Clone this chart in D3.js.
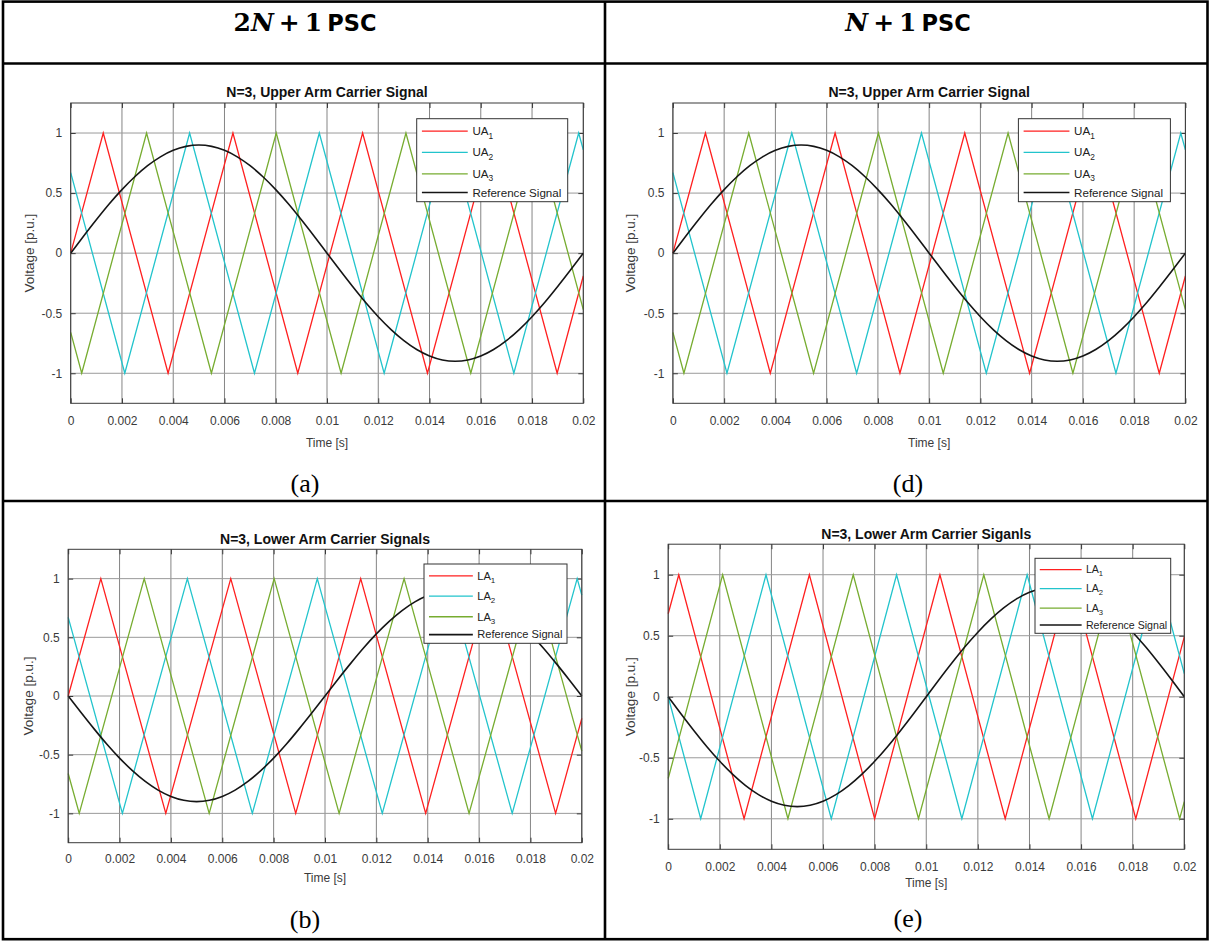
<!DOCTYPE html>
<html>
<head>
<meta charset="utf-8">
<script src="https://cdn.jsdelivr.net/npm/d3@7"></script>
<style>
  html, body { margin: 0; padding: 0; background: #fff; }
  svg { display: block; }
</style>
</head>
<body>
<svg id="chart" width="1212" height="942"></svg>
<script>
// ---------------- DATA ----------------
const xTicks = [0, 0.002, 0.004, 0.006, 0.008, 0.01, 0.012, 0.014, 0.016, 0.018, 0.02];
const xTickLabels = ["0", "0.002", "0.004", "0.006", "0.008", "0.01", "0.012", "0.014", "0.016", "0.018", "0.02"];
const yTicks = [-1, -0.5, 0, 0.5, 1];
const yTickLabels = ["-1", "-0.5", "0", "0.5", "1"];
const xDomain = [0, 0.02];
const yDomain = [-1.25, 1.25];

// Reference signal samples (time in s, value in p.u.)
const refTime = [0, 0.0005, 0.001, 0.0015, 0.002, 0.0025, 0.003, 0.0035, 0.004, 0.0045, 0.005,
  0.0055, 0.006, 0.0065, 0.007, 0.0075, 0.008, 0.0085, 0.009, 0.0095, 0.01,
  0.0105, 0.011, 0.0115, 0.012, 0.0125, 0.013, 0.0135, 0.014, 0.0145, 0.015,
  0.0155, 0.016, 0.0165, 0.017, 0.0175, 0.018, 0.0185, 0.019, 0.0195, 0.02];
const refUpper = [0, 0.141, 0.278, 0.409, 0.529, 0.636, 0.728, 0.802, 0.856, 0.889, 0.9,
  0.889, 0.856, 0.802, 0.728, 0.636, 0.529, 0.409, 0.278, 0.141, 0,
  -0.141, -0.278, -0.409, -0.529, -0.636, -0.728, -0.802, -0.856, -0.889, -0.9,
  -0.889, -0.856, -0.802, -0.728, -0.636, -0.529, -0.409, -0.278, -0.141, 0];
const refLower = [0, -0.141, -0.278, -0.409, -0.529, -0.636, -0.728, -0.802, -0.856, -0.889, -0.9,
  -0.889, -0.856, -0.802, -0.728, -0.636, -0.529, -0.409, -0.278, -0.141, 0,
  0.141, 0.278, 0.409, 0.529, 0.636, 0.728, 0.802, 0.856, 0.889, 0.9,
  0.889, 0.856, 0.802, 0.728, 0.636, 0.529, 0.409, 0.278, 0.141, 0];

// Carrier vertices, 2N+1 PSC (panels a, b) and N+1 upper arm (panel d)
const car1T = [0, 0.00127, 0.0038, 0.00633, 0.00886, 0.01139, 0.01392, 0.01645, 0.01898, 0.02];
const car1V = [0, 1, -1, 1, -1, 1, -1, 1, -1, -0.19];
const car2T = [0, 0.00211, 0.00464, 0.00717, 0.0097, 0.01223, 0.01476, 0.01729, 0.01982, 0.02];
const car2V = [0.67, -1, 1, -1, 1, -1, 1, -1, 1, 0.86];
const car3T = [0, 0.00043, 0.00296, 0.00549, 0.00802, 0.01055, 0.01308, 0.01561, 0.01814, 0.02];
const car3V = [-0.66, -1, 1, -1, 1, -1, 1, -1, 1, -0.47];

// Carrier vertices, N+1 PSC lower arm (panel e)
const carE1T = [0, 0.00041, 0.00294, 0.00547, 0.008, 0.01053, 0.01306, 0.01559, 0.01812, 0.02];
const carE1V = [0.68, 1, -1, 1, -1, 1, -1, 1, -1, 0.49];
const carE2T = [0, 0.00126, 0.00379, 0.00632, 0.00885, 0.01138, 0.01391, 0.01644, 0.01897, 0.02];
const carE2V = [0, -1, 1, -1, 1, -1, 1, -1, 1, 0.19];
const carE3T = [0, 0.00211, 0.00464, 0.00717, 0.0097, 0.01223, 0.01476, 0.01729, 0.01982, 0.02];
const carE3V = [-0.67, 1, -1, 1, -1, 1, -1, 1, -1, -0.86];

const upperNames = ["UA", "UA", "UA"];
const lowerNames = ["LA", "LA", "LA"];
const seriesSubs = ["1", "2", "3"];
const refName = "Reference Signal";
const titles = ["N=3, Upper Arm Carrier Signal", "N=3, Lower Arm Carrier Signals",
                "N=3, Upper Arm Carrier Signal", "N=3, Lower Arm Carrier Siganls"];
const captions = ["(a)", "(b)", "(d)", "(e)"];
const xLabel = "Time [s]";
const yLabel = "Voltage [p.u.]";

// ---------------- STYLE / LAYOUT ----------------
const colors = ["#ff1f1f", "#22c4cc", "#77ac30"];
const refColor = "#151515";
const sansFont = "'Liberation Sans', Arial, Helvetica, sans-serif";
const serifFont = "'Liberation Serif', 'Times New Roman', serif";

const zip = (T, V) => T.map((t, i) => ({ t: t, v: V[i] }));

const panels = [
  { title: titles[0], caption: captions[0], names: upperNames,
    carriers: [zip(car1T, car1V), zip(car2T, car2V), zip(car3T, car3V)], ref: zip(refTime, refUpper),
    box: { x0: 70.7, x1: 583.3, y0: 103, y1: 403.3 }, titleY: 97, tickY: 13, xLabelY: 447, yLabelX: 29,
    captionX: 305, captionY: 492,
    legend: { x: 416.7, y: 118.7, w: 151, h: 83, fs: 11.6 } },
  { title: titles[1], caption: captions[1], names: lowerNames,
    carriers: [zip(car1T, car1V), zip(car2T, car2V), zip(car3T, car3V)], ref: zip(refTime, refLower),
    box: { x0: 68.2, x1: 581.8, y0: 549.3, y1: 842.7 }, titleY: 543.5, tickY: 12, xLabelY: 882, yLabelX: 28,
    captionX: 305, captionY: 928,
    legend: { x: 424, y: 564, w: 143, h: 79.3, fs: 11.1 } },
  { title: titles[2], caption: captions[2], names: upperNames,
    carriers: [zip(car1T, car1V), zip(car2T, car2V), zip(car3T, car3V)], ref: zip(refTime, refUpper),
    box: { x0: 672.9, x1: 1185.4, y0: 103, y1: 403.3 }, titleY: 97, tickY: 13, xLabelY: 447, yLabelX: 630,
    captionX: 908, captionY: 492,
    legend: { x: 1018.4, y: 118.7, w: 152, h: 83, fs: 11.6 } },
  { title: titles[3], caption: captions[3], names: lowerNames,
    carriers: [zip(carE1T, carE1V), zip(carE2T, carE2V), zip(carE3T, carE3V)], ref: zip(refTime, refLower),
    box: { x0: 668.2, x1: 1184.3, y0: 544.2, y1: 849.3 }, titleY: 539, tickY: 13, xLabelY: 886.5, yLabelX: 630,
    captionX: 908, captionY: 927,
    legend: { x: 1035, y: 558.3, w: 135.7, h: 75, fs: 10.6 } }
];

const svg = d3.select("#chart");

// ---------------- TABLE ----------------
const table = svg.append("g").attr("stroke", "#000").attr("stroke-width", 2.6).attr("fill", "none");
table.append("rect").attr("x", 3).attr("y", 1.6).attr("width", 1204.5).attr("height", 937.6);
table.append("line").attr("x1", 605).attr("x2", 605).attr("y1", 1.6).attr("y2", 939.2);
table.append("line").attr("x1", 3).attr("x2", 1207.5).attr("y1", 63.5).attr("y2", 63.5);
table.append("line").attr("x1", 3).attr("x2", 1207.5).attr("y1", 501).attr("y2", 501);

// Header texts
function header(cx, prefix) {
  const t = svg.append("text").attr("x", cx).attr("y", 31).attr("text-anchor", "middle")
    .attr("fill", "#000");
  if (prefix) t.append("tspan").attr("font-family", "'DejaVu Serif', serif").attr("font-weight", "bold")
    .attr("font-size", 25).text(prefix);
  t.append("tspan").attr("font-family", "'DejaVu Serif', serif").attr("font-weight", "bold")
    .attr("font-style", "italic").attr("font-size", 25).text("N");
  t.append("tspan").attr("font-family", "'DejaVu Serif', serif").attr("font-weight", "bold")
    .attr("font-size", 25).attr("xml:space", "preserve").text("\u2009+\u20091\u2009");
  t.append("tspan").attr("font-family", "'DejaVu Sans', sans-serif").attr("font-weight", "bold")
    .attr("font-size", 22.5).text("PSC");
}
header(305, "2");
header(908, "");

// ---------------- PANELS ----------------
panels.forEach(p => {
  const b = p.box;
  const x = d3.scaleLinear().domain(xDomain).range([b.x0, b.x1]);
  const y = d3.scaleLinear().domain(yDomain).range([b.y1, b.y0]);
  const g = svg.append("g");

  // background
  g.append("rect").attr("x", b.x0).attr("y", b.y0).attr("width", b.x1 - b.x0).attr("height", b.y1 - b.y0)
    .attr("fill", "#fff");

  // grid
  const grid = g.append("g").attr("stroke-width", 1);
  grid.selectAll("line.vx").data(xTicks).join("line").attr("class", "vx")
    .attr("x1", d => x(d)).attr("x2", d => x(d)).attr("y1", b.y0).attr("y2", b.y1)
    .attr("stroke", "#858585");
  grid.selectAll("line.hy").data(yTicks).join("line").attr("class", "hy")
    .attr("x1", b.x0).attr("x2", b.x1).attr("y1", d => y(d)).attr("y2", d => y(d))
    .attr("stroke", "#9a9a9a");

  // axes (ticks inward)
  const axB = d3.axisBottom(x).tickValues(xTicks).tickSize(-5).tickPadding(p.tickY)
    .tickFormat((d, i) => xTickLabels[i]);
  const axL = d3.axisLeft(y).tickValues(yTicks).tickSize(-5).tickPadding(8.5)
    .tickFormat((d, i) => yTickLabels[i]);
  const axT = d3.axisTop(x).tickValues(xTicks).tickSize(-5).tickFormat("");
  const axR = d3.axisRight(y).tickValues(yTicks).tickSize(-5).tickFormat("");

  function styleAxis(sel) {
    sel.select(".domain").remove();
    sel.selectAll(".tick line").attr("stroke", "#3a3a3a");
    sel.selectAll(".tick text").attr("fill", "#3a3a3a").attr("font-family", sansFont).attr("font-size", 12);
  }
  g.append("g").attr("transform", `translate(0,${b.y1})`).call(axB).call(styleAxis);
  g.append("g").attr("transform", `translate(${b.x0},0)`).call(axL).call(styleAxis);
  g.append("g").attr("transform", `translate(0,${b.y0})`).call(axT).call(styleAxis);
  g.append("g").attr("transform", `translate(${b.x1},0)`).call(axR).call(styleAxis);

  // series
  const line = d3.line().x(d => x(d.t)).y(d => y(d.v));
  const refLine = d3.line().x(d => x(d.t)).y(d => y(d.v)).curve(d3.curveMonotoneX);
  p.carriers.forEach((c, i) => {
    g.append("path").datum(c).attr("d", line).attr("fill", "none")
      .attr("stroke", colors[i]).attr("stroke-width", 1.3).attr("stroke-linejoin", "miter");
  });
  g.append("path").datum(p.ref).attr("d", refLine).attr("fill", "none")
    .attr("stroke", refColor).attr("stroke-width", 1.6);

  // box
  g.append("rect").attr("x", b.x0).attr("y", b.y0).attr("width", b.x1 - b.x0).attr("height", b.y1 - b.y0)
    .attr("fill", "none").attr("stroke", "#3a3a3a").attr("stroke-width", 1);

  // title
  g.append("text").attr("x", (b.x0 + b.x1) / 2).attr("y", p.titleY).attr("text-anchor", "middle")
    .attr("font-family", sansFont).attr("font-weight", "bold").attr("font-size", 14)
    .attr("fill", "#111").text(p.title);

  // axis labels
  g.append("text").attr("x", (b.x0 + b.x1) / 2).attr("y", p.xLabelY).attr("text-anchor", "middle")
    .attr("font-family", sansFont).attr("font-size", 12).attr("fill", "#3a3a3a").text(xLabel);
  g.append("text").attr("transform", `translate(${p.yLabelX},${(b.y0 + b.y1) / 2}) rotate(-90)`)
    .attr("text-anchor", "middle").attr("dy", "0.35em")
    .attr("font-family", sansFont).attr("font-size", 13.5).attr("fill", "#3a3a3a").text(yLabel);

  // legend
  const L = p.legend, fs = L.fs;
  const lg = g.append("g");
  lg.append("rect").attr("x", L.x).attr("y", L.y).attr("width", L.w).attr("height", L.h)
    .attr("fill", "#fff").attr("stroke", "#333").attr("stroke-width", 1);
  const rowsF = [0.15, 0.405, 0.665, 0.89];
  const entries = [
    { name: p.names[0], sub: seriesSubs[0], color: colors[0], w: 1.3 },
    { name: p.names[1], sub: seriesSubs[1], color: colors[1], w: 1.3 },
    { name: p.names[2], sub: seriesSubs[2], color: colors[2], w: 1.3 },
    { name: refName, sub: null, color: refColor, w: 1.6 }
  ];
  entries.forEach((e, i) => {
    const ry = L.y + rowsF[i] * L.h;
    lg.append("line").attr("x1", L.x + 0.45 * fs).attr("x2", L.x + 4.4 * fs)
      .attr("y1", ry).attr("y2", ry).attr("stroke", e.color).attr("stroke-width", e.w);
    const t = lg.append("text").attr("x", L.x + 4.8 * fs).attr("y", ry + 0.34 * fs)
      .attr("font-family", sansFont).attr("font-size", fs).attr("fill", "#222");
    t.append("tspan").text(e.name);
    if (e.sub) t.append("tspan").attr("font-size", fs * 0.72).attr("dy", fs * 0.3).text(e.sub);
  });

  // caption
  svg.append("text").attr("x", p.captionX).attr("y", p.captionY).attr("text-anchor", "middle")
    .attr("font-family", serifFont).attr("font-size", 26).attr("fill", "#000").text(p.caption);
});
</script>
</body>
</html>
